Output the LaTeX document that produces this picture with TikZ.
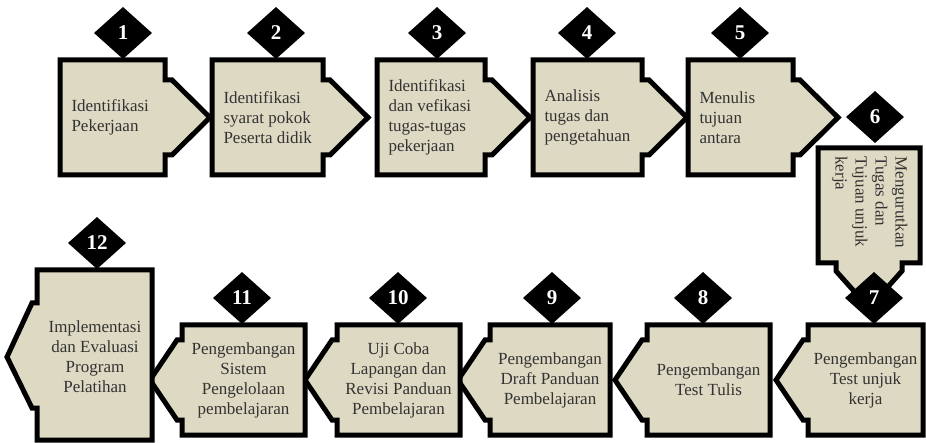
\documentclass[tikz,border=0pt]{standalone}
\usepackage{fontspec}
\setmainfont{Liberation Serif}
\usetikzlibrary{shapes.geometric, positioning}
\definecolor{tanfill}{HTML}{DDD9C3}

\begin{document}
\begin{tikzpicture}[x=1pt, y=-1pt, line width=5pt,
  stepbox/.style={draw=black, fill=tanfill, line join=miter},
  steptext/.style={font=\fontsize{17}{20}\selectfont, text=black!80, inner sep=0pt, align=left},
  badge/.style={shape=diamond, draw=none, fill=black, minimum width=60pt, minimum height=54pt, inner sep=0pt, text=white, font=\fontsize{21}{21}\selectfont\bfseries}]
\useasboundingbox (0,0) rectangle (926,443);

% top row, pointing right
\foreach \i/\l/\r/\d/\txt in {1/60/165/123/{Identifikasi\\Pekerjaan},
    2/212/323/276/{Identifikasi\\syarat pokok\\Peserta didik},
    3/377/485/437/{Identifikasi\\dan vefikasi\\tugas-tugas\\pekerjaan},
    4/533/642/587/{Analisis\\tugas dan\\pengetahuan},
    5/688/793/740/{Menulis\\tujuan\\antara}}{
	\draw[stepbox] (\l,60) -- (\r,60) -- (\r,80) -- (\r+7,80) -- (\r+45,117.5) -- (\r+7,155) -- (\r,155) -- (\r,175) -- (\l,175) -- cycle;
	\node[steptext, anchor=west] (t\i) at (\l+9,117.5) {\txt};
	\node[badge] (n\i) at (\d,33) {\i};
}

% step 6, pointing down
\draw[stepbox] (818,148) -- (920,148) -- (920,263) -- (902,263) -- (902,271) -- (869,308) -- (836,271) -- (836,263) -- (818,263) -- cycle;
\node[steptext, rotate=-90, anchor=north west] (t6) at (910,154) {Mengurutkan\\Tugas dan\\Tujuan unjuk\\kerja};
\node[badge] (n6) at (875,117) {6};

% bottom row, pointing left
\foreach \i/\l/\r/\d/\txt in {7/808/923/874/{Pengembangan\\Test unjuk\\kerja},
    8/647/770/703/{Pengembangan\\Test Tulis},
    9/490/610/552/{Pengembangan\\Draft Panduan\\Pembelajaran},
    10/337/460/398/{Uji Coba\\Lapangan dan\\Revisi Panduan\\Pembelajaran},
    11/182/305/242/{Pengembangan\\Sistem\\Pengelolaan\\pembelajaran}}{
	\draw[stepbox] (\r,325) -- (\r,435) -- (\l,435) -- (\l,420) -- (\l-5,420) -- (\l-32,380) -- (\l-5,340) -- (\l,340) -- (\l,325) -- cycle;
	\node[steptext, align=center] (t\i) at ({(\l+\r)/2},380) {\txt};
	\node[badge] (n\i) at (\d,298) {\i};
}

% step 12
\draw[stepbox] (152,270) -- (152,440) -- (37,440) -- (37,408) -- (32,408) -- (7,357) -- (32,303) -- (37,303) -- (37,270) -- cycle;
\node[steptext, align=center] (t12) at (95,357) {Implementasi\\dan Evaluasi\\Program\\Pelatihan};
\node[badge] (n12) at (97,243) {12};
\end{tikzpicture}
\end{document}
